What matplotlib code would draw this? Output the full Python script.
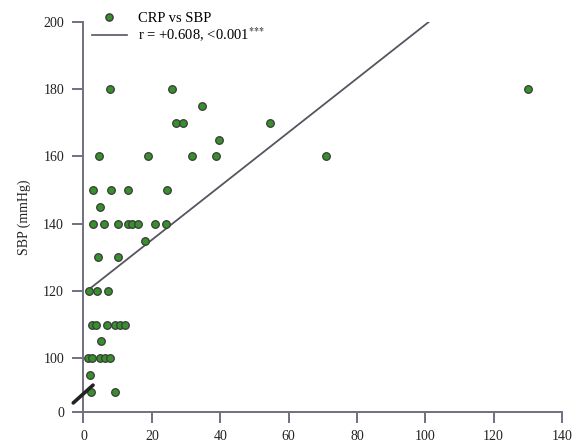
import numpy as np
import matplotlib
matplotlib.use("Agg")
import matplotlib.pyplot as plt
from matplotlib.lines import Line2D

plt.rcParams['font.family'] = 'Liberation Serif'
plt.rcParams['mathtext.fontset'] = 'stix'

# data
crp = [7.7, 26, 130, 27, 29, 34.7, 54.5, 39.7, 31.8, 38.8, 71, 4.5, 18.8,
       2.8, 8, 12.9, 24.3, 4.8,
       2.8, 6, 10, 13, 14.1, 16, 20.8, 24, 17.9, 4.2, 10,
       1.6, 3.9, 7.1,
       2.5, 3.6, 6.8, 9.2, 10.6, 12.1, 5.1,
       1.3, 2.5, 4.8, 6.3, 7.7, 1.9, 2.2, 9.2]
sbp = [180, 180, 180, 170, 170, 175, 170, 165, 160, 160, 160, 160, 160,
       150, 150, 150, 150, 145,
       140, 140, 140, 140, 140, 140, 140, 140, 135, 130, 130,
       120, 120, 120,
       110, 110, 110, 110, 110, 110, 105,
       100, 100, 100, 100, 100, 95, 90, 90]
fit_x = [1, 101]
fit_y = [120, 200]
xticks = [0, 20, 40, 60, 80, 100, 120, 140]
yticks = [0, 100, 120, 140, 160, 180, 200]

y_break = 84  # axis is broken: 0 is drawn here

def ypos(v):
    return np.where(np.asarray(v) == 0, y_break, v)

fig = plt.figure(figsize=(5.73, 4.47), dpi=100)
ax = fig.add_axes([0.1457, 0.0783, 0.8351, 0.8725])

ax.plot(fit_x, fit_y, color='#555560', lw=1.3, zorder=2)
ax.scatter(crp, sbp, s=30, facecolor='#36902b', edgecolor='#3a3a3a',
           linewidth=0.9, zorder=3)
# break mark near origin
ax.plot([-3, 2.8], [86.7, 92], color='#222222', lw=2.6,
        solid_capstyle='round', clip_on=False, zorder=4)

ax.set_xlim(0, 140)
ax.set_ylim(y_break, 200)
ax.set_xticks(xticks)
ax.set_yticks(ypos(yticks))
ax.set_yticklabels([str(t) for t in yticks])

for s in ['top', 'right']:
    ax.spines[s].set_visible(False)
for s in ['left', 'bottom']:
    ax.spines[s].set_color('#707080')
    ax.spines[s].set_linewidth(1.4)
ax.tick_params(direction='out', length=8, width=1.4, color='#707080',
               labelsize=10, labelcolor='#222222')
ax.tick_params(axis='y', pad=6)
ax.tick_params(axis='x', pad=5)

ax.set_ylabel('SBP (mmHg)', fontsize=10, color='#222222', labelpad=8.5)

handles = [Line2D([], [], marker='o', ls='none', markersize=5.2,
                  markerfacecolor='#36902b', markeredgecolor='#3a3a3a'),
           Line2D([], [], color='#555560', lw=1.2)]
labels = ['CRP vs SBP', r'r = +0.608, <0.001$^{{*}{*}{*}}$']
fig.legend(handles, labels, loc='upper left', bbox_to_anchor=(0.15, 0.986),
           frameon=False, fontsize=10.5, handlelength=2.4, handletextpad=0.75,
           labelspacing=0.05, borderaxespad=0)

fig.savefig('out.png', dpi=100)
